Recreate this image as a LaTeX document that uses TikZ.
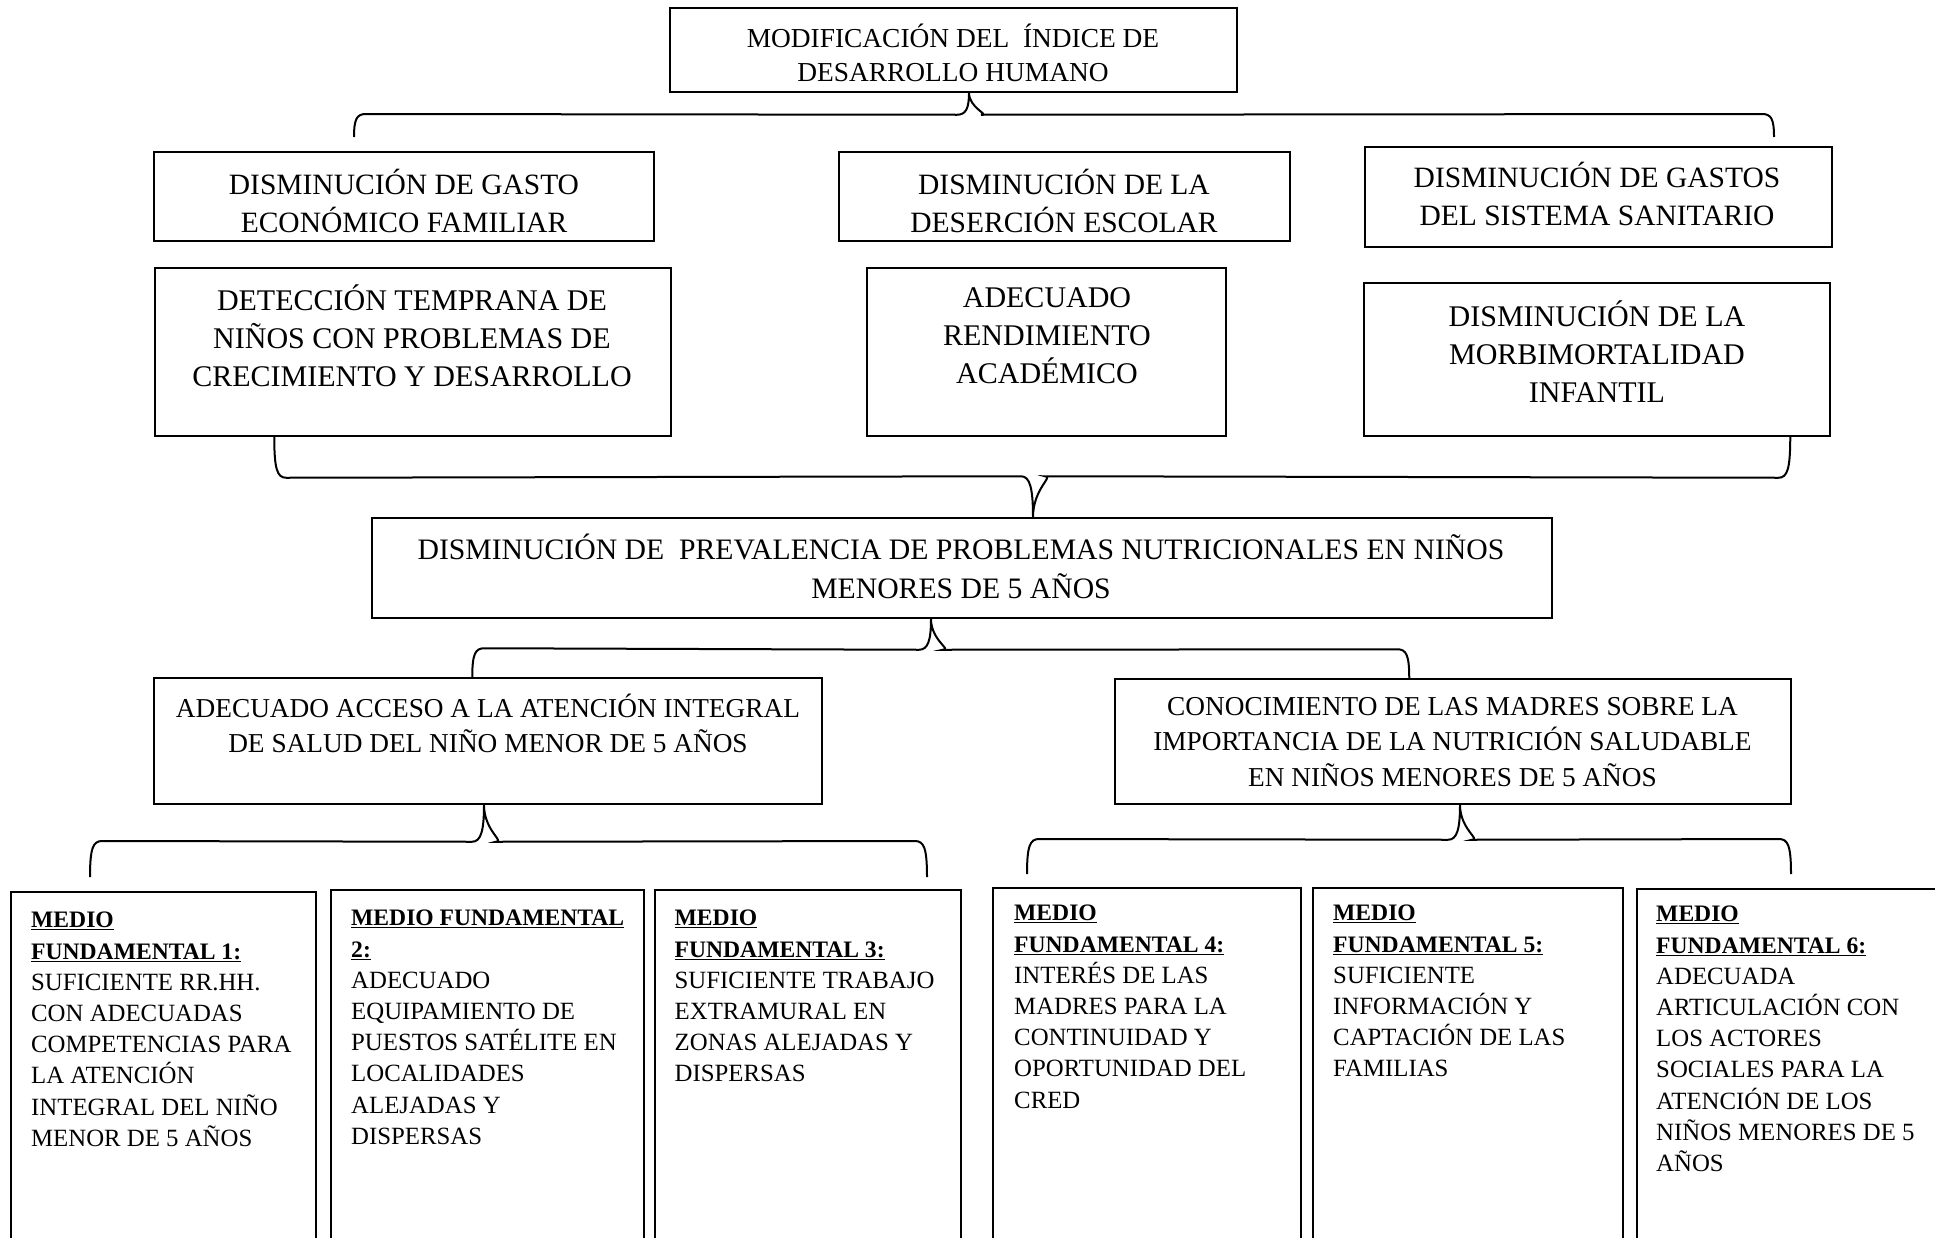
\documentclass[tikz,border=0pt]{standalone}
\usepackage{fontspec}
\setmainfont{Liberation Serif}
\usetikzlibrary{calc}
\tikzset{
  box/.style={draw, line width=1.5pt, inner sep=0pt},
  brc/.style={line width=2pt},
  ttop/.style={align=center, inner sep=0pt, font=\fontsize{27.4pt}{34.5pt}\selectfont},
  tA/.style={align=center, inner sep=0pt, font=\fontsize{29.5pt}{38pt}\selectfont},
  tB/.style={align=center, inner sep=0pt, font=\fontsize{30pt}{38pt}\selectfont},
  tC/.style={align=center, inner sep=0pt, font=\fontsize{29.7pt}{39pt}\selectfont},
  tD/.style={align=center, inner sep=0pt, font=\fontsize{27.3pt}{35.5pt}\selectfont},
  tE/.style={align=left, inner sep=0pt, anchor=north west, font=\fontsize{24.8pt}{31.2pt}\selectfont},
}
\newcommand\hd[1]{{\fontsize{23.6pt}{31.2pt}\selectfont\bfseries\underline{#1}}}
% #1 left end, #2 tip, #3 right end, #4 end->bar offset, #5 tip->bar offset
\newcommand\hbrace[5]{%
  \draw[brc] (#1) .. controls +(0,{0.8*(#4)}) and +(-9,0) .. ($(#1)+(12,#4)$)
    -- ($(#2)+(-12,#5)$) .. controls +(9,0) and +(0,{0.7*(#5)}) .. (#2)
    .. controls +(0,{0.7*(#5)}) and +(9,0) .. ($(#2)+(12,#5)$)
    -- ($(#3)+(-12,#4)$) .. controls +(9,0) and +(0,{0.8*(#4)}) .. (#3);
}
\begin{document}
\begin{tikzpicture}[x=1pt,y=-1pt]
\useasboundingbox (0,0) rectangle (1935,1237);
\clip (0,0) rectangle (1935,1237);
\fill[white] (0,0) rectangle (1935,1237);

% boxes
\node[box, minimum width=567pt, minimum height=84pt] (top) at (953.5,50) {};
\node[ttop] (topt) at (953,53) {MODIFICACIÓN DEL~ ÍNDICE DE\\DESARROLLO HUMANO};

\node[box, minimum width=500pt, minimum height=89pt] (a1) at (404,196.5) {};
\node[tA] (a1t) at (404,200.5) {DISMINUCIÓN DE GASTO\\ECONÓMICO FAMILIAR};
\node[box, minimum width=451pt, minimum height=89pt] (a2) at (1064.5,196.5) {};
\node[tA] (a2t) at (1064,200.5) {DISMINUCIÓN DE LA\\DESERCIÓN ESCOLAR};
\node[box, minimum width=467pt, minimum height=100pt] (a3) at (1598.5,197) {};
\node[tA] (a3t) at (1597,194) {DISMINUCIÓN DE GASTOS\\DEL SISTEMA SANITARIO};

\node[box, minimum width=516pt, minimum height=168pt] (b1) at (413,352) {};
\node[tB] (b1t) at (412,336) {DETECCIÓN TEMPRANA DE\\NIÑOS CON PROBLEMAS DE\\CRECIMIENTO Y DESARROLLO};
\node[box, minimum width=359pt, minimum height=168pt] (b2) at (1046.5,352) {};
\node[tB] (b2t) at (1047,336) {ADECUADO\\RENDIMIENTO\\ACADÉMICO};
\node[box, minimum width=466pt, minimum height=153pt] (b3) at (1597,359.5) {};
\node[tB] (b3t) at (1597,352) {DISMINUCIÓN DE LA\\MORBIMORTALIDAD\\INFANTIL};

\node[box, minimum width=1180pt, minimum height=100pt] (c) at (962,568) {};
\node[tC] (ct) at (961,566) {DISMINUCIÓN DE~ PREVALENCIA DE PROBLEMAS NUTRICIONALES EN NIÑOS\\MENORES DE 5 AÑOS};

\node[box, minimum width=668pt, minimum height=126pt] (d1) at (488,741) {};
\node[tD] (d1t) at (488,723.5) {ADECUADO ACCESO A LA ATENCIÓN INTEGRAL\\DE SALUD DEL NIÑO MENOR DE 5 AÑOS};
\node[box, minimum width=676pt, minimum height=125pt] (d2) at (1453,741.5) {};
\node[tD] (d2t) at (1452.5,742) {CONOCIMIENTO DE LAS MADRES SOBRE LA\\IMPORTANCIA DE LA NUTRICIÓN SALUDABLE\\EN NIÑOS MENORES DE 5 AÑOS};

\node[box, minimum width=305pt, minimum height=368pt] (e1) at (163.5,1076) {};
\node[tE] (e1t) at (31,912) {\hd{MEDIO}\\\hd{FUNDAMENTAL 1:}\\SUFICIENTE RR.HH.\\CON ADECUADAS\\COMPETENCIAS PARA\\LA ATENCIÓN\\INTEGRAL DEL NIÑO\\MENOR DE 5 AÑOS};
\node[box, minimum width=313pt, minimum height=370pt] (e2) at (487.5,1075) {};
\node[tE] (e2t) at (351,910) {\hd{MEDIO FUNDAMENTAL}\\\hd{2:}\\ADECUADO\\EQUIPAMIENTO DE\\PUESTOS SATÉLITE EN\\LOCALIDADES\\ALEJADAS Y\\DISPERSAS};
\node[box, minimum width=306pt, minimum height=370pt] (e3) at (808,1075) {};
\node[tE] (e3t) at (674.5,910) {\hd{MEDIO}\\\hd{FUNDAMENTAL 3:}\\SUFICIENTE TRABAJO\\EXTRAMURAL EN\\ZONAS ALEJADAS Y\\DISPERSAS};
\node[box, minimum width=308pt, minimum height=372pt] (e4) at (1147,1074) {};
\node[tE] (e4t) at (1014,905) {\hd{MEDIO}\\\hd{FUNDAMENTAL 4:}\\INTERÉS DE LAS\\MADRES PARA LA\\CONTINUIDAD Y\\OPORTUNIDAD DEL\\CRED};
\node[box, minimum width=310pt, minimum height=372pt] (e5) at (1468,1074) {};
\node[tE] (e5t) at (1333,905) {\hd{MEDIO}\\\hd{FUNDAMENTAL 5:}\\SUFICIENTE\\INFORMACIÓN Y\\CAPTACIÓN DE LAS\\FAMILIAS};
\node[box, minimum width=323pt, minimum height=371pt] (e6) at (1798.5,1074.5) {};
\node[tE] (e6t) at (1656,906) {\hd{MEDIO}\\\hd{FUNDAMENTAL 6:}\\ADECUADA\\ARTICULACIÓN CON\\LOS ACTORES\\SOCIALES PARA LA\\ATENCIÓN DE LOS\\NIÑOS MENORES DE 5\\AÑOS};

% brace coordinates
\coordinate (t1) at ($(top.south)+(15.5,0)$);
\coordinate (l1) at (354,137);
\coordinate (r1) at (1774,137);
\coordinate (t2) at ($(c.north)+(71,0)$);
\coordinate (l2) at ($(b1.south west)+(120,0)$);
\coordinate (r2) at ($(b3.south west)+(427,0)$);
\coordinate (t3) at ($(c.south)+(-31,0)$);
\coordinate (l3) at ($(d1.north west)+(319,0)$);
\coordinate (r3) at ($(d2.north west)+(295,0)$);
\coordinate (t4) at ($(d1.south)+(-4,0)$);
\coordinate (l4) at (90,877);
\coordinate (r4) at (927,877);
\coordinate (t5) at ($(d2.south)+(7,0)$);
\coordinate (l5) at (1027,874);
\coordinate (r5) at (1791,874);

\hbrace{l1}{t1}{r1}{-23}{22}
\hbrace{l2}{t2}{r2}{41}{-41}
\hbrace{l3}{t3}{r3}{-29}{31}
\hbrace{l4}{t4}{r4}{-36}{37}
\hbrace{l5}{t5}{r5}{-35}{35}
\end{tikzpicture}
\end{document}
